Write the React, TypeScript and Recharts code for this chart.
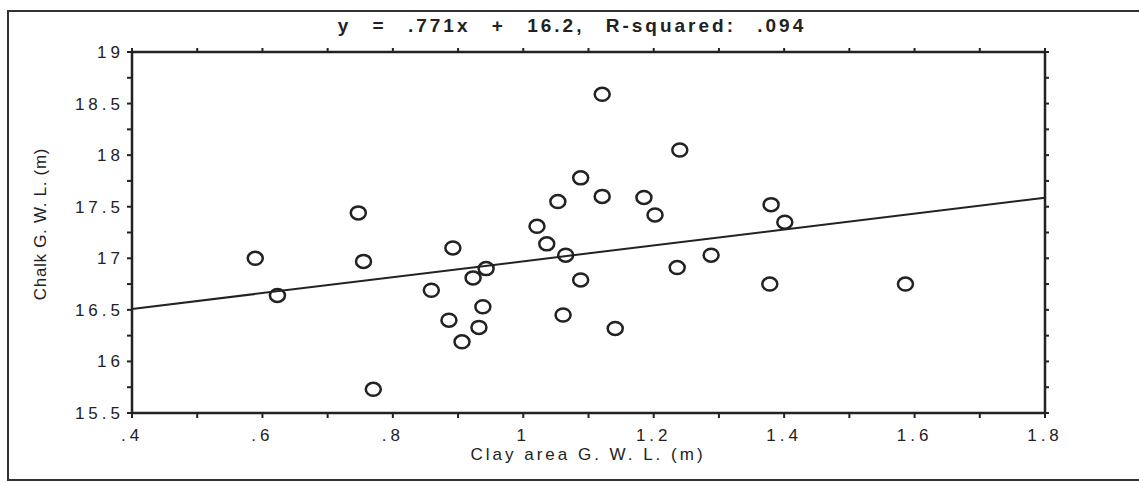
import React from 'react';
import { ComposedChart, Scatter, XAxis, YAxis, ReferenceLine } from 'recharts';

// clay area vs chalk ground water level (m)
const clayGWL = [
  0.589, 0.623, 0.747, 0.755, 0.77, 0.859, 0.886, 0.892, 0.906, 0.923, 0.932,
  0.938, 0.943, 1.021, 1.036, 1.053, 1.061, 1.065, 1.088, 1.088, 1.121, 1.121,
  1.141, 1.185, 1.202, 1.24, 1.236, 1.288, 1.38, 1.378, 1.401, 1.586,
];
const chalkGWL = [
  17.0, 16.64, 17.44, 16.97, 15.73, 16.69, 16.4, 17.1, 16.19, 16.81, 16.33,
  16.53, 16.9, 17.31, 17.14, 17.55, 16.45, 17.03, 16.79, 17.78, 18.59, 17.6,
  16.32, 17.59, 17.42, 18.05, 16.91, 17.03, 17.52, 16.75, 17.35, 16.75,
];

const slope = 0.771;
const intercept = 16.2;
const rSquared = '.094';

const xTicks = [0.4, 0.5, 0.6, 0.7, 0.8, 0.9, 1, 1.1, 1.2, 1.3, 1.4, 1.5, 1.6, 1.7, 1.8];
const yTicks = [15.5, 15.75, 16, 16.25, 16.5, 16.75, 17, 17.25, 17.5, 17.75, 18, 18.25, 18.5, 18.75, 19];

const data = clayGWL.map((x, i) => ({ x, y: chalkGWL[i] }));

const ink = '#222';
const font = '"Liberation Sans", Arial, sans-serif';

const xFmt = (v: number) => {
  if (Math.round(v * 10) % 2 !== 0) return '';
  const s = String(+v.toFixed(2));
  return s.startsWith('0') ? s.slice(1) : s;
};
const yFmt = (v: number) => (Math.round(v * 4) % 2 !== 0 ? '' : String(v));
const blank = () => '';

const Ring = (props: any) => (
  <ellipse cx={props.cx} cy={props.cy} rx={7.5} ry={6.5} fill="none" stroke={ink} strokeWidth={2.5} />
);

export default function App() {
  const tickStyle = { fill: ink, fontSize: 17, fontFamily: font, letterSpacing: 4 };
  return (
    <div style={{ position: 'fixed', left: 0, top: 0, width: 1139, height: 483, background: '#fff', fontFamily: font, color: ink }}>
      <div style={{ position: 'absolute', left: 7, top: 10, width: 1140, height: 471, boxSizing: 'border-box', border: '2px solid #333', borderRight: 'none' }} />
      <div style={{ position: 'absolute', left: 272, width: 600, top: 16, lineHeight: '19px', fontSize: 19, fontWeight: 'bold', textAlign: 'center', letterSpacing: 3, wordSpacing: 13 }}>
        {`y = ${String(slope).slice(1)}x + ${intercept}, R-squared: ${rSquared}`}
      </div>
      <div style={{ position: 'absolute', left: 388, width: 400, top: 446, lineHeight: '17px', fontSize: 17, textAlign: 'center', letterSpacing: 3 }}>
        Clay area G. W. L. (m)
      </div>
      <div style={{ position: 'absolute', left: 40, top: 224, fontSize: 17, lineHeight: '17px', whiteSpace: 'nowrap', letterSpacing: 0.7, transform: 'translate(-50%, -50%) rotate(-90deg)' }}>
        Chalk G. W. L. (m)
      </div>
      <ComposedChart width={1139} height={483} data={data} margin={{ top: 51, right: 93, bottom: 20, left: 28 }} style={{ position: 'absolute', left: 0, top: 0 }}>
        <XAxis dataKey="x" type="number" domain={[0.4, 1.8]} ticks={xTicks} tickFormatter={xFmt} height={50}
          interval={0} stroke={ink} strokeWidth={2.5} tickSize={5} tickMargin={11} tick={tickStyle} tickLine={{ stroke: ink, strokeWidth: 2 }} />
        <XAxis xAxisId="top" dataKey="x" orientation="top" type="number" domain={[0.4, 1.8]} ticks={xTicks} tickFormatter={blank} height={1}
          interval={0} stroke={ink} strokeWidth={2.5} tickSize={4} tickLine={{ stroke: ink, strokeWidth: 2 }} />
        <YAxis dataKey="y" type="number" domain={[15.5, 19]} ticks={yTicks} tickFormatter={yFmt} width={104}
          interval={0} stroke={ink} strokeWidth={2.5} tickSize={5} tickMargin={3} tick={tickStyle} tickLine={{ stroke: ink, strokeWidth: 2 }} />
        <YAxis yAxisId="right" dataKey="y" orientation="right" type="number" domain={[15.5, 19]} ticks={yTicks} tickFormatter={blank} width={1}
          interval={0} stroke={ink} strokeWidth={2.5} tickSize={4} tickLine={{ stroke: ink, strokeWidth: 2 }} />
        <ReferenceLine
          segment={[
            { x: 0.4, y: slope * 0.4 + intercept },
            { x: 1.8, y: slope * 1.8 + intercept },
          ]}
          stroke={ink}
          strokeWidth={2}
        />
        <Scatter dataKey="y" shape={Ring} isAnimationActive={false} />
        <Scatter xAxisId="top" yAxisId="right" dataKey="y" shape={() => null} isAnimationActive={false} />
      </ComposedChart>
    </div>
  );
}
